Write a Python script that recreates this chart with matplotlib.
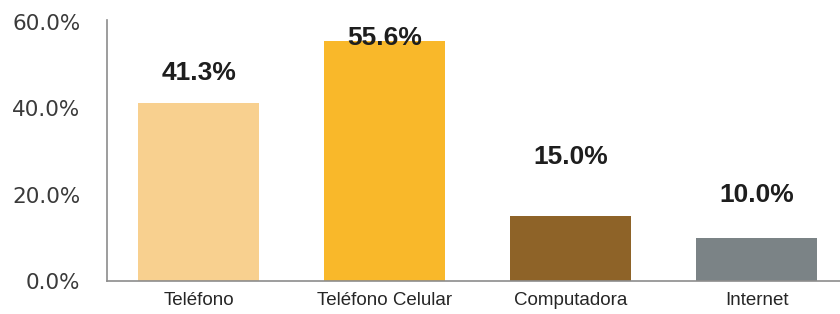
import matplotlib
matplotlib.use("Agg")
import matplotlib.pyplot as plt

categories = ["Teléfono", "Teléfono Celular", "Computadora", "Internet"]
values = [41.3, 55.6, 15.0, 10.0]
value_labels = ["41.3%", "55.6%", "15.0%", "10.0%"]
y_ticks = [0, 20, 40, 60]
y_tick_labels = ["0.0%", "20.0%", "40.0%", "60.0%"]

colors = ["#F8D08F", "#F9B82A", "#8E6328", "#7B8386"]
label_offsets_px = [30, 3, 59, 43]

fig = plt.figure(figsize=(8.4, 3.14), dpi=100)
ax = fig.add_axes([107/840, 33/314, 733/840, 261/314])

x = list(range(len(categories)))
ax.bar(x, values, width=0.65, color=colors, zorder=2)

for xi, v, lab, off in zip(x, values, value_labels, label_offsets_px):
    ax.annotate(lab, xy=(xi, v), xytext=(0, off * 0.72), textcoords="offset points",
                ha="center", va="center", fontsize=19, fontweight="bold",
                family="Liberation Sans", color="#1e1e1e")

ax.set_xlim(-0.492, 3.446)
ax.set_ylim(0, 60.46)
ax.set_yticks(y_ticks)
ax.set_yticklabels(y_tick_labels, fontsize=15.5, family="DejaVu Sans", color="#3a3a3a")
ax.set_xticks(x)
ax.set_xticklabels(categories, fontsize=13.5, family="Liberation Sans", color="#262626")
ax.tick_params(axis="y", length=0, pad=19)
ax.tick_params(axis="x", length=0, pad=8)

for s in ["top", "right"]:
    ax.spines[s].set_visible(False)
for s in ["left", "bottom"]:
    ax.spines[s].set_color("#8c8c8c")
    ax.spines[s].set_linewidth(1.2)

fig.savefig("out.png", dpi=100, facecolor="white")
